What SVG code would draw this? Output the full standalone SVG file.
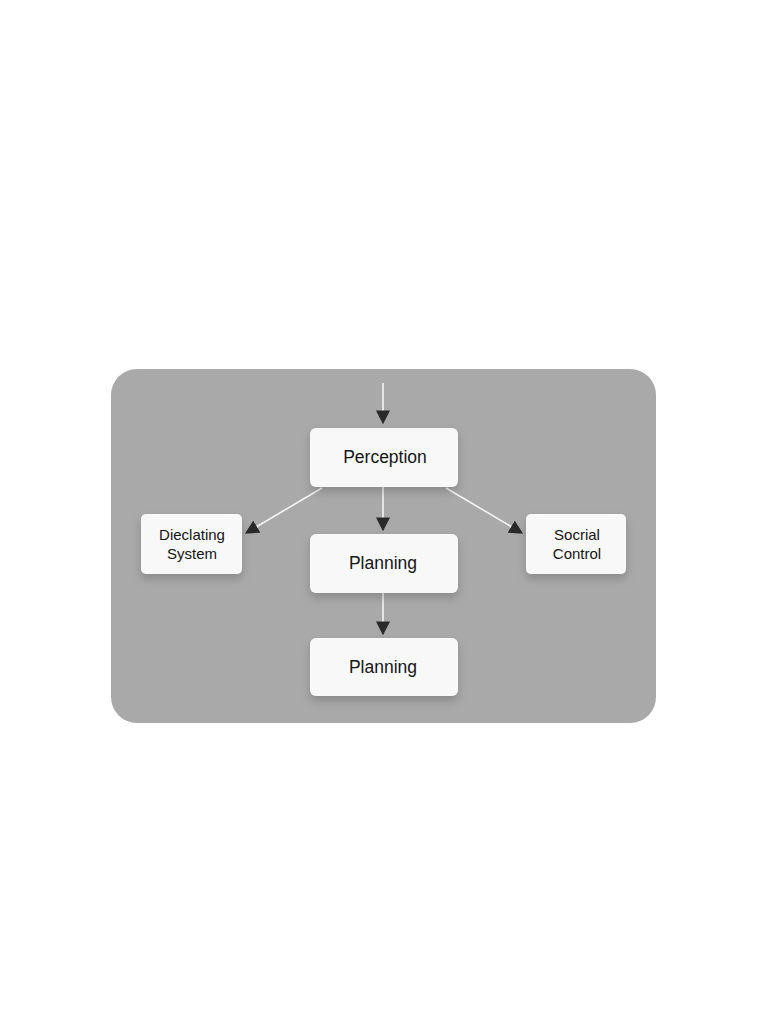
<svg xmlns="http://www.w3.org/2000/svg" width="768" height="1024" viewBox="0 0 768 1024">
<defs>
<style>
.node rect{fill:#f8f8f8;filter:url(#sh)}
.big{font-family:"Liberation Sans",Arial,sans-serif;font-size:17.5px;fill:#151515;text-anchor:middle}
.small{font-family:"Liberation Sans",Arial,sans-serif;font-size:15px;fill:#151515;text-anchor:middle}
.conn line{stroke:#f4f4f4;stroke-width:1.6;marker-end:url(#ah)}
</style>
<filter id="sh" x="-30%" y="-30%" width="160%" height="180%">
<feDropShadow dx="0" dy="5" stdDeviation="5" flood-color="#000" flood-opacity="0.18"/>
</filter>
<marker id="ah" viewBox="0 0 10 10" refX="9" refY="5" markerWidth="14" markerHeight="14" markerUnits="userSpaceOnUse" orient="auto">
<path d="M0,0 L10,5 L0,10 z" fill="#2a2a2a"/>
</marker>
</defs>
<rect width="768" height="1024" fill="#ffffff"/>
<rect id="panel" x="111" y="369" width="545" height="354" rx="26" fill="#a9a9a9"/>
<g id="connectors" class="conn">
<line x1="383" y1="383" x2="383" y2="423"/>
<line x1="383" y1="487" x2="383" y2="530"/>
<line x1="322" y1="488" x2="246" y2="533"/>
<line x1="446" y1="488" x2="522" y2="533"/>
<line x1="383" y1="593" x2="383" y2="634"/>
</g>
<g id="perception" class="node">
<rect x="310" y="428" width="148" height="59" rx="6"/>
<text class="big" x="385" y="463">Perception</text>
</g>
<g id="dieclating" class="node">
<rect x="141" y="514" width="101" height="60" rx="5"/>
<text class="small" x="192" y="540">Dieclating</text>
<text class="small" x="192" y="559">System</text>
</g>
<g id="socrial" class="node">
<rect x="526" y="514" width="100" height="60" rx="5"/>
<text class="small" x="577" y="540">Socrial</text>
<text class="small" x="577" y="559">Control</text>
</g>
<g id="planning1" class="node">
<rect x="310" y="534" width="148" height="59" rx="6"/>
<text class="big" x="383" y="569">Planning</text>
</g>
<g id="planning2" class="node">
<rect x="310" y="638" width="148" height="58" rx="6"/>
<text class="big" x="383" y="673">Planning</text>
</g>
</svg>
